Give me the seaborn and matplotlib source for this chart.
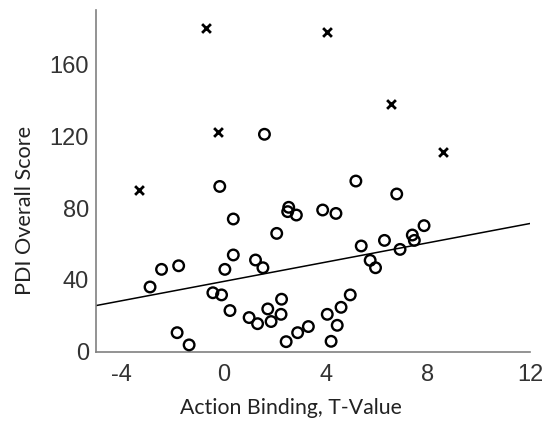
import numpy as np
import pandas as pd
import matplotlib
matplotlib.use("Agg")
import matplotlib.pyplot as plt
import seaborn as sns

# Included participants (open circles)
binding_in = [1.6, -0.15, 2.55, 2.51, 2.85, 0.38, 2.08, 0.38, 1.25, 1.54,
              0.05, -2.43, -1.76, -2.88, -0.42, -0.08, 0.25, 1.0, 1.33, 1.73,
              2.27, 2.25, 1.86, -1.82, -1.35, 2.45, 2.9, 3.32, 5.18, 6.78,
              3.88, 4.4, 7.85, 7.39, 7.47, 6.3, 5.39, 6.91, 5.74, 5.95,
              4.96, 4.6, 4.06, 4.45, 4.21]
pdi_in = [121, 92, 80.4, 78, 76.1, 73.9, 65.9, 53.9, 51.1, 46.8,
          45.9, 45.9, 47.9, 36.1, 32.9, 31.7, 23, 19.1, 15.7, 23.9,
          29.3, 20.9, 16.9, 10.7, 3.9, 5.7, 10.7, 14.1, 95, 87.8,
          78.9, 77, 70.2, 65, 62, 62, 58.9, 57, 50.9, 46.8,
          31.7, 24.8, 20.9, 14.8, 5.9]

# Excluded outliers (crosses)
binding_out = [-0.7, -0.2, -3.3, 4.05, 6.55, 8.6]
pdi_out = [180, 122, 90, 178, 138, 111]

x_ticks = [-4, 0, 4, 8, 12]
y_ticks = [0, 40, 80, 120, 160]

df_in = pd.DataFrame({"binding": binding_in, "pdi": pdi_in})
df_out = pd.DataFrame({"binding": binding_out, "pdi": pdi_out})

sns.set_style("white")
plt.rcParams["font.family"] = ["Liberation Sans", "DejaVu Sans"]

fig = plt.figure(figsize=(5.45, 4.24), dpi=100)
ax = fig.add_axes([0.176, 0.170, 0.7965, 0.806])
ax.set_xlim(-5, 12)
ax.set_ylim(0, 190)

sns.regplot(data=df_in, x="binding", y="pdi", ax=ax, ci=None, truncate=False,
            scatter=False, line_kws=dict(color="black", lw=1.1))
sns.scatterplot(data=df_in, x="binding", y="pdi", ax=ax, marker="o",
                facecolor="none", edgecolor="black", linewidth=1.7, s=58, zorder=3)
sns.scatterplot(data=df_out, x="binding", y="pdi", ax=ax, marker="x",
                color="black", linewidth=2.0, s=40, zorder=3)

ax.set_xlim(-5, 12)
ax.set_ylim(0, 190)
ax.set_xticks(x_ticks)
ax.set_yticks(y_ticks)
ax.set_xticklabels([str(t) for t in x_ticks])
ax.set_yticklabels([str(t) for t in y_ticks])
ax.tick_params(direction="in", length=4, width=1, color="#808080",
               labelsize=17, labelcolor="#333333")
ax.tick_params(axis="x", pad=9)
ax.tick_params(axis="y", pad=5)
for s in ["top", "right"]:
    ax.spines[s].set_visible(False)
for s in ["left", "bottom"]:
    ax.spines[s].set_color("#808080")
    ax.spines[s].set_linewidth(1.2)

ax.set_xlabel("Action Binding, T-Value", fontsize=15.3, family=["Lato", "DejaVu Sans"],
              color="#222222")
ax.set_ylabel("PDI Overall Score", fontsize=15.6, family=["Lato", "DejaVu Sans"],
              color="#222222")
ax.xaxis.set_label_coords(0.449, -0.135)
ax.yaxis.set_label_coords(-0.14, 0.415)

fig.savefig("out.png", dpi=100)
